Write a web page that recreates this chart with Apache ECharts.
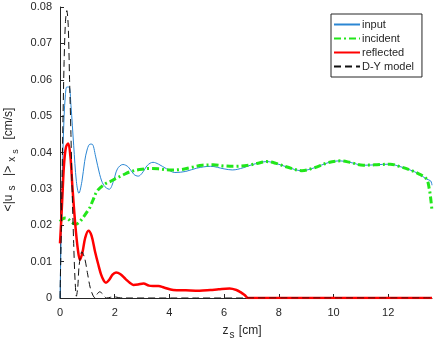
<!DOCTYPE html>
<html>
<head>
<meta charset="utf-8">
<script src="https://cdn.jsdelivr.net/npm/echarts@6/dist/echarts.min.js"></script>
<style>html,body{margin:0;padding:0;background:#fff;}#c{width:436px;height:341px;}</style>
</head>
<body>
<div id="c"></div>
<script>
const xTicks = [0, 2, 4, 6, 8, 10, 12];
const yTicks = [0, 0.01, 0.02, 0.03, 0.04, 0.05, 0.06, 0.07, 0.08];
const seriesNames = ['input', 'incident', 'reflected', 'D-Y model'];

const inputZ = [0,0.05,0.1,0.15,0.2,0.25,0.33,0.4,0.5,0.6,0.69,0.8,0.9,1.0,1.1,1.17,1.3,1.45,1.6,1.8,1.95,2.1,2.3,2.5,2.7,2.86,3.0,3.2,3.4,3.6,3.9,4.2,4.6,5.0,5.5,6.0,6.3,6.7,7.0,7.56,7.9,8.3,8.84,9.3,9.8,10.24,10.6,11.09,11.5,12.07,12.4,12.8,13.1,13.4,13.55,13.6];
const inputV = [0,0.02,0.038,0.05,0.056,0.058,0.058,0.053,0.042,0.032,0.0288,0.032,0.0375,0.041,0.0423,0.0423,0.039,0.034,0.031,0.0299,0.032,0.0355,0.0367,0.036,0.034,0.0335,0.0343,0.0365,0.0373,0.0368,0.0355,0.0345,0.0348,0.0357,0.0362,0.0355,0.0352,0.0358,0.0366,0.0375,0.037,0.036,0.035,0.0358,0.0372,0.0377,0.0373,0.0365,0.0366,0.0368,0.0362,0.0352,0.0342,0.0327,0.0322,0.031];

const incidentZ = [0,0.1,0.2,0.3,0.45,0.58,0.7,0.85,1.0,1.1,1.2,1.34,1.5,1.7,1.83,2.0,2.3,2.56,2.9,3.29,3.6,4.0,4.4,4.8,5.2,5.6,6.0,6.4,6.9,7.2,7.56,7.9,8.3,8.84,9.3,9.8,10.24,10.6,11.09,11.5,12.07,12.4,12.8,13.1,13.4,13.5,13.55,13.6];
const incidentV = [0.021,0.0218,0.022,0.0217,0.0207,0.0203,0.0208,0.0222,0.0238,0.025,0.0268,0.0292,0.0305,0.0316,0.032,0.0327,0.0338,0.0347,0.0353,0.0356,0.0355,0.0352,0.0353,0.0359,0.0365,0.0366,0.0363,0.0362,0.0365,0.037,0.0375,0.037,0.036,0.035,0.0358,0.0372,0.0377,0.0373,0.0365,0.0366,0.0368,0.0362,0.0352,0.0342,0.0327,0.03,0.0275,0.024];

const reflectedZ = [0,0.05,0.1,0.15,0.22,0.3,0.38,0.45,0.55,0.65,0.73,0.82,0.92,1.04,1.15,1.28,1.4,1.5,1.6,1.68,1.8,1.92,2.05,2.2,2.4,2.55,2.68,2.85,3.05,3.25,3.4,3.6,3.8,4.14,4.6,5.1,5.5,5.8,6.2,6.45,6.6,6.75,6.88,7,10,13.6];
const reflectedV = [0.015,0.022,0.03,0.037,0.0415,0.0425,0.039,0.031,0.021,0.0135,0.0105,0.0125,0.0165,0.0185,0.0172,0.0128,0.0092,0.0065,0.0048,0.0042,0.005,0.0064,0.007,0.0066,0.0052,0.0042,0.0036,0.0037,0.004,0.0034,0.0033,0.0033,0.0029,0.0022,0.0021,0.002,0.0022,0.0024,0.0026,0.0022,0.0016,0.0008,0,0,0,0];

const dyZ = [0,0.05,0.1,0.15,0.2,0.25,0.3,0.35,0.4,0.45,0.5,0.55,0.6,0.65,0.7,0.8,0.9,1.0,1.1,1.2,1.28,1.35,1.45,1.55,1.7,1.85,2.0,2.15,2.3,5,10,13.6];
const dyV = [0,0.02,0.045,0.065,0.076,0.079,0.075,0.06,0.045,0.028,0.015,0.005,0.0005,0.003,0.009,0.0127,0.011,0.007,0.003,0.0008,0,0.001,0.0017,0.0012,0,0.0002,0.0003,0.0001,0,0,0,0];

function pairs(z, v) { return z.map((x, i) => [x, v[i]]); }

const txt = '#262626';
const ff = 'Liberation Sans, Arial, sans-serif';
const chart = echarts.init(document.getElementById('c'), null, {renderer: 'canvas'});
chart.setOption({
  animation: false,
  backgroundColor: '#fff',
  textStyle: {fontFamily: ff},
  grid: {left: 60, right: 4, top: 7, bottom: 43, containLabel: false, outerBoundsMode: 'none'},
  xAxis: {
    type: 'value', min: 0, max: 13.6, interval: 2,
    axisLine: {lineStyle: {color: txt, width: 1}},
    axisTick: {inside: true, length: 4, lineStyle: {color: txt}, customValues: xTicks},
    axisLabel: {color: txt, fontSize: 11, margin: 9, customValues: xTicks},
    splitLine: {show: false},
    name: '{n|z}{sub|s}{n| [cm]}',
    nameLocation: 'middle', nameGap: 24,
    nameTextStyle: {
      rich: {
        n: {fontSize: 12, color: txt, fontFamily: ff},
        sub: {fontSize: 10, color: txt, padding: [8, 1, 0, 1], fontFamily: ff}
      },
      padding: [0, 8, 0, 0]
    }
  },
  yAxis: {
    type: 'value', min: 0, max: 0.08, interval: 0.01,
    axisLine: {show: true, lineStyle: {color: txt, width: 1}},
    axisTick: {show: true, inside: true, length: 4, lineStyle: {color: txt}, customValues: yTicks},
    axisLabel: {color: txt, fontSize: 11, margin: 8, customValues: yTicks,
      formatter: v => v === 0 ? '0' : String(+v.toFixed(2))},
    splitLine: {show: false},
    name: '{n|<|u}{sub|s}{n|  |>}{sub|x}{sub2|s}{n|  [cm/s]}',
    nameLocation: 'middle', nameGap: 38, nameRotate: 90,
    nameTextStyle: {
      rich: {
        n: {fontSize: 12, color: txt, fontFamily: ff},
        sub: {fontSize: 10, color: txt, padding: [8, 3, 0, 4], fontFamily: ff},
        sub2: {fontSize: 9, color: txt, padding: [14, 3, 0, 0], fontFamily: ff}
      },
      padding: [0, 14, 0, 0]
    }
  },
  legend: {
    orient: 'vertical', left: 331, top: 14,
    width: 90,
    padding: [5, 8, 5, 2],
    itemGap: 3, itemWidth: 26, itemHeight: 11,
    borderColor: txt, borderWidth: 1, backgroundColor: '#fff',
    itemStyle: {opacity: 0, borderWidth: 0},
    textStyle: {fontSize: 11, color: txt, padding: [0, 0, 0, -3]},
    data: seriesNames
  },
  series: [
    {name: seriesNames[0], type: 'line', data: pairs(inputZ, inputV), symbol: 'none', smooth: 0.35,
     lineStyle: {color: '#2b86d3', width: 1}, itemStyle: {color: '#2b86d3'}},
    {name: seriesNames[1], type: 'line', data: pairs(incidentZ, incidentV), symbol: 'none', smooth: 0.35,
     lineStyle: {color: '#22e61a', width: 3, type: [7, 3, 2, 3]}, itemStyle: {color: '#22e61a'}},
    {name: seriesNames[2], type: 'line', data: pairs(reflectedZ, reflectedV), symbol: 'none', smooth: 0.35,
     lineStyle: {color: '#ff0000', width: 2.5}, itemStyle: {color: '#ff0000'}},
    {name: seriesNames[3], type: 'line', data: pairs(dyZ, dyV), symbol: 'none', smooth: 0.3,
     lineStyle: {color: '#111', width: 1, type: [7, 4]}, itemStyle: {color: '#111'}}
  ]
});
</script>
</body>
</html>
